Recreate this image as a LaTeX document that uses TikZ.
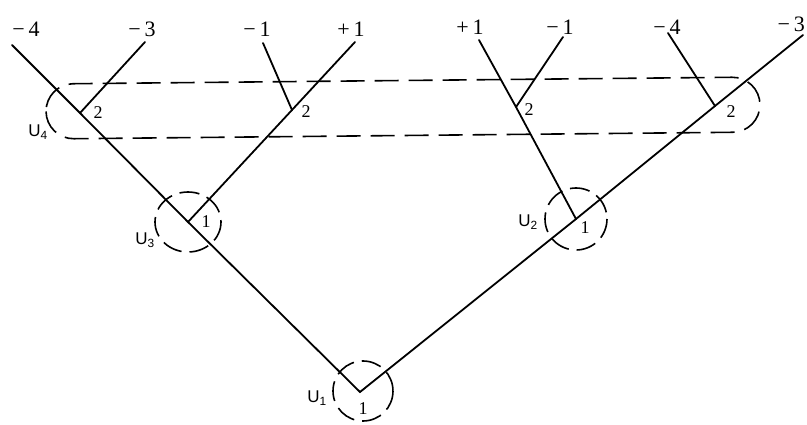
\documentclass[tikz,border=0pt]{standalone}
\usepackage{fontspec}
\setmainfont{Liberation Serif}
\newfontfamily\usf{Liberation Sans}
\begin{document}
\begin{tikzpicture}[x=1pt,y=-1pt,
  wire/.style={line width=1.8pt, line cap=round},
  ring/.style={line width=1.6pt, dash pattern=on 20pt off 8pt},
  oval/.style={line width=1.6pt, dash pattern=on 24pt off 10pt},
  toplab/.style={font=\fontsize{22}{22}\selectfont, inner sep=0pt},
  num/.style={font=\fontsize{18}{18}\selectfont, inner sep=0pt},
  ulab/.style={font=\usf\fontsize{17}{17}\selectfont, inner sep=0pt}]
\useasboundingbox (0,0) rectangle (807,425);
% apex and junctions
\coordinate (A) at (360,392);
\coordinate (J4) at (80,113);
\coordinate (J3) at (188,222);
\coordinate (J5) at (292,110);
\coordinate (J2) at (576,219);
\coordinate (J6) at (516,107);
\coordinate (J7) at (715,106);
% free ends
\coordinate (E1) at (12,45);
\coordinate (E2) at (145,42);
\coordinate (E3) at (263,43);
\coordinate (E4) at (355,42);
\coordinate (E5) at (479,40);
\coordinate (E6) at (563,37);
\coordinate (E7) at (668,33);
\coordinate (E8) at (803,35);
% wires
\draw[wire] (E1) -- (J4) -- (J3) -- (A) -- (J2) -- (J7) -- (E8);
\draw[wire] (J4) -- (E2);
\draw[wire] (J3) -- (J5) -- (E4);
\draw[wire] (J5) -- (E3);
\draw[wire] (J2) -- (J6) -- (E5);
\draw[wire] (J6) -- (E6);
\draw[wire] (J7) -- (E7);
% top labels
\node[toplab] (t1) at (26,29) {−\,4};
\node[toplab] (t2) at (142,29) {−\,3};
\node[toplab] (t3) at (257,29) {−\,1};
\node[toplab] (t4) at (351,29) {+\,1};
\node[toplab] (t5) at (470,27) {+\,1};
\node[toplab] (t6) at (560,27) {−\,1};
\node[toplab] (t7) at (667,27) {−\,4};
\node[toplab, anchor=east] (t8) at (805,24) {−\,3};
% dashed rings
\draw[ring] (363,391) circle [radius=30];
\draw[ring] (188,222) ellipse [x radius=33, y radius=30];
\draw[ring] (576,219) circle [radius=31];
\draw[oval, rotate around={0.56:(403,108)}, rounded corners=27.5pt] (46,80.5) rectangle (760,135.5);
% numbers
\node[num] (n1) at (363,409) {1};
\node[num] (n3) at (206,222) {1};
\node[num] (n2) at (585,228) {1};
\node[num] (n4a) at (98,113) {2};
\node[num] (n4b) at (306,112) {2};
\node[num] (n4c) at (529,110) {2};
\node[num] (n4d) at (731,112) {2};
% unit labels
\node[ulab] (u1) at (317,398) {U\textsubscript{1}};
\node[ulab] (u3) at (145,240) {U\textsubscript{3}};
\node[ulab] (u2) at (528,222) {U\textsubscript{2}};
\node[ulab] (u4) at (38,132) {U\textsubscript{4}};
\end{tikzpicture}
\end{document}
